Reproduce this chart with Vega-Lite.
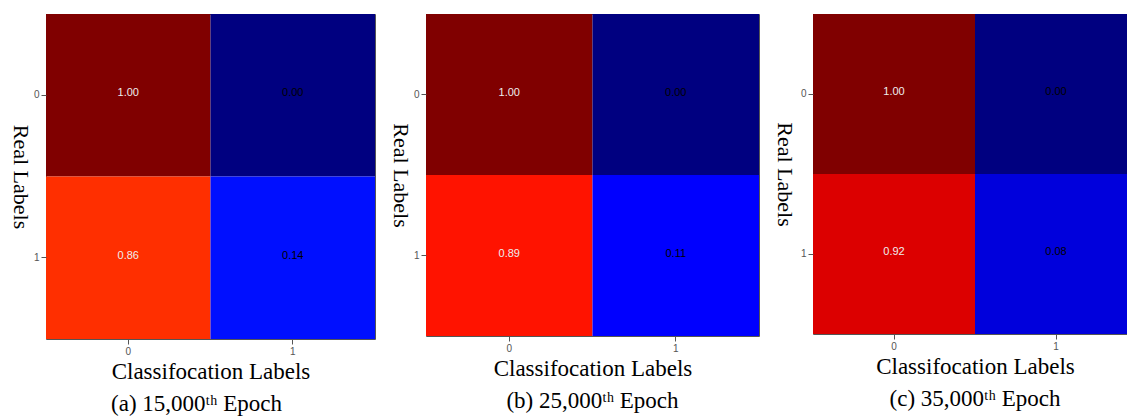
{
  "$schema": "https://vega.github.io/schema/vega-lite/v6.json",
  "padding": {"left": 8, "top": 13, "right": 0, "bottom": 0},
  "background": "white",
  "datasets": {
    "cm": [
      {"panel": "a", "real": 0, "pred": 0, "value": 1.00},
      {"panel": "a", "real": 0, "pred": 1, "value": 0.00},
      {"panel": "a", "real": 1, "pred": 0, "value": 0.86},
      {"panel": "a", "real": 1, "pred": 1, "value": 0.14},
      {"panel": "b", "real": 0, "pred": 0, "value": 1.00},
      {"panel": "b", "real": 0, "pred": 1, "value": 0.00},
      {"panel": "b", "real": 1, "pred": 0, "value": 0.89},
      {"panel": "b", "real": 1, "pred": 1, "value": 0.11},
      {"panel": "c", "real": 0, "pred": 0, "value": 1.00},
      {"panel": "c", "real": 0, "pred": 1, "value": 0.00},
      {"panel": "c", "real": 1, "pred": 0, "value": 0.92},
      {"panel": "c", "real": 1, "pred": 1, "value": 0.08}
    ]
  },
  "config": {
    "view": {"stroke": "#555555", "strokeWidth": 1},
    "axis": {
      "labelFont": "Liberation Sans", "labelFontSize": 10, "labelColor": "#555555",
      "tickColor": "#555555", "tickSize": 5, "labelPadding": 2,
      "domain": false, "grid": false,
      "titleFont": "Liberation Serif", "titleFontSize": 23, "titleFontWeight": "normal", "titleColor": "#000000"
    },
    "axisY": {"titleAngle": 90, "titleBaseline": "top", "titlePadding": 3, "titleFontSize": 22},
    "axisX": {"labelAngle": 0, "titlePadding": 4},
    "title": {"font": "Liberation Serif", "fontSize": 23, "fontWeight": "normal", "orient": "bottom", "color": "#000000", "frame": "group", "anchor": "middle"}
  },
  "spacing": 12,
  "hconcat": [
    {
      "width": 329, "height": 325,
      "data": {"name": "cm"},
      "transform": [{"filter": "datum.panel === 'a'"}],
      "title": {"text": "(a) 15,000ᵗʰ Epoch", "dx": -14, "offset": 10},
      "encoding": {
        "x": {"field": "pred", "type": "nominal", "title": "Classifocation Labels"},
        "y": {"field": "real", "type": "nominal", "title": "Real Labels"}
      },
      "layer": [
        {"mark": {"type": "rect"}, "encoding": {"color": {"field": "value", "type": "quantitative", "legend": null, "scale": {"interpolate": "rgb", "domain": [0, 0.11, 0.125, 0.34, 0.35, 0.375, 0.64, 0.65, 0.66, 0.89, 0.91, 1], "range": ["#000080", "#0000ff", "#0000ff", "#00dbff", "#00e6f7", "#15ffe2", "#efff08", "#f7f500", "#ffec00", "#ff1300", "#e80000", "#800000"]}}}},
        {"mark": {"type": "text", "font": "Liberation Sans", "fontSize": 11, "dy": -2}, "encoding": {"text": {"field": "value", "type": "quantitative", "format": ".2f"}, "color": {"condition": {"test": "datum.value > 0.5", "value": "#eeeeee"}, "value": "#000000"}}}
      ]
    },
    {
      "width": 333, "height": 322,
      "data": {"name": "cm"},
      "transform": [{"filter": "datum.panel === 'b'"}],
      "title": {"text": "(b) 25,000ᵗʰ Epoch", "offset": 10},
      "encoding": {
        "x": {"field": "pred", "type": "nominal", "title": "Classifocation Labels"},
        "y": {"field": "real", "type": "nominal", "title": "Real Labels"}
      },
      "layer": [
        {"mark": {"type": "rect"}, "encoding": {"color": {"field": "value", "type": "quantitative", "legend": null, "scale": {"interpolate": "rgb", "domain": [0, 0.11, 0.125, 0.34, 0.35, 0.375, 0.64, 0.65, 0.66, 0.89, 0.91, 1], "range": ["#000080", "#0000ff", "#0000ff", "#00dbff", "#00e6f7", "#15ffe2", "#efff08", "#f7f500", "#ffec00", "#ff1300", "#e80000", "#800000"]}}}},
        {"mark": {"type": "text", "font": "Liberation Sans", "fontSize": 11, "dy": -2}, "encoding": {"text": {"field": "value", "type": "quantitative", "format": ".2f"}, "color": {"condition": {"test": "datum.value > 0.5", "value": "#eeeeee"}, "value": "#000000"}}}
      ]
    },
    {
      "width": 324, "height": 320,
      "data": {"name": "cm"},
      "transform": [{"filter": "datum.panel === 'c'"}],
      "title": {"text": "(c) 35,000ᵗʰ Epoch", "offset": 10},
      "encoding": {
        "x": {"field": "pred", "type": "nominal", "title": "Classifocation Labels"},
        "y": {"field": "real", "type": "nominal", "title": "Real Labels", "axis": {"titlePadding": 6}}
      },
      "layer": [
        {"mark": {"type": "rect"}, "encoding": {"color": {"field": "value", "type": "quantitative", "legend": null, "scale": {"interpolate": "rgb", "domain": [0, 0.11, 0.125, 0.34, 0.35, 0.375, 0.64, 0.65, 0.66, 0.89, 0.91, 1], "range": ["#000080", "#0000ff", "#0000ff", "#00dbff", "#00e6f7", "#15ffe2", "#efff08", "#f7f500", "#ffec00", "#ff1300", "#e80000", "#800000"]}}}},
        {"mark": {"type": "text", "font": "Liberation Sans", "fontSize": 11, "dy": -2}, "encoding": {"text": {"field": "value", "type": "quantitative", "format": ".2f"}, "color": {"condition": {"test": "datum.value > 0.5", "value": "#eeeeee"}, "value": "#000000"}}}
      ]
    }
  ]
}
